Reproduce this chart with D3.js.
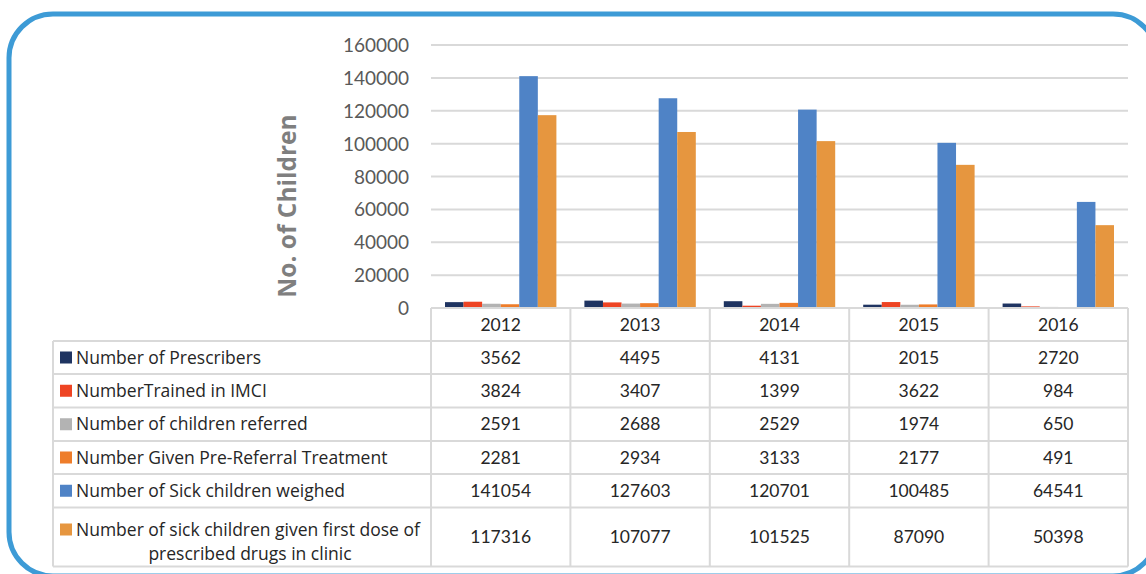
<!DOCTYPE html>
<html>
<head>
<meta charset="utf-8">
<script src="https://cdn.jsdelivr.net/npm/d3@7"></script>
<style>
  body { margin: 0; background: #fff; }
  svg text { font-family: Lato, "Open Sans", sans-serif; }
  svg text.label { font-family: "Open Sans", Lato, sans-serif; }
</style>
</head>
<body>
<svg id="chart"></svg>
<script>
// data
var years = ["2012", "2013", "2014", "2015", "2016"];
var seriesNames = [
    "Number of Prescribers",
    "NumberTrained in IMCI",
    "Number of children referred",
    "Number Given Pre-Referral Treatment",
    "Number of Sick children weighed",
    "Number of sick children given first dose of prescribed drugs in clinic"
];
var prescribers = [3562, 4495, 4131, 2015, 2720];
var trained = [3824, 3407, 1399, 3622, 984];
var referred = [2591, 2688, 2529, 1974, 650];
var preReferral = [2281, 2934, 3133, 2177, 491];
var weighed = [141054, 127603, 120701, 100485, 64541];
var firstDose = [117316, 107077, 101525, 87090, 50398];
var yTicks = [0, 20000, 40000, 60000, 80000, 100000, 120000, 140000, 160000];

var series = [prescribers, trained, referred, preReferral, weighed, firstDose];
var colors = ["#1f3461", "#ee4423", "#b3b3b3", "#ee7d2a", "#4f83c6", "#e6963f"];

// layout
var W = 1146, H = 574;
var svg = d3.select("#chart").attr("width", W).attr("height", H);

// rounded frame
svg.append("rect")
    .attr("x", 9).attr("y", 14)
    .attr("width", 1148).attr("height", 562)
    .attr("rx", 44).attr("ry", 44)
    .attr("fill", "none")
    .attr("stroke", "#3d9bd6")
    .attr("stroke-width", 5);

var plotLeft = 431, plotRight = 1128, plotTop = 45, plotBottom = 308;

var x0 = d3.scaleBand().domain(years).range([plotLeft, plotRight]).padding(0);
var x1 = d3.scaleBand().domain(d3.range(series.length))
    .range([14, x0.bandwidth() - 14]).padding(0);
var y = d3.scaleLinear().domain([0, 160000]).range([plotBottom, plotTop]);

// gridlines
svg.selectAll(".grid")
    .data(yTicks.filter(function (d) { return d > 0; }))
    .enter()
    .append("line")
    .attr("class", "grid")
    .attr("x1", plotLeft).attr("x2", plotRight)
    .attr("y1", function (d) { return y(d); })
    .attr("y2", function (d) { return y(d); })
    .attr("stroke", "#d9d9d9")
    .attr("stroke-width", 2);

// y axis labels
svg.selectAll(".ytick")
    .data(yTicks)
    .enter()
    .append("text")
    .attr("class", "ytick")
    .attr("x", 409)
    .attr("y", function (d) { return y(d) + 7; })
    .attr("text-anchor", "end")
    .attr("font-size", 19)
    .attr("fill", "#595959")
    .text(function (d) { return d; });

svg.append("text")
    .attr("class", "label")
    .attr("transform", "translate(296,206) rotate(-90)")
    .attr("text-anchor", "middle")
    .attr("font-size", 24.5)
    .attr("font-weight", "bold")
    .attr("fill", "#7f7f7f")
    .text("No. of Children");

// bars
series.forEach(function (vals, s) {
    svg.selectAll(".bar" + s)
        .data(vals)
        .enter()
        .append("rect")
        .attr("class", "bar" + s)
        .attr("x", function (d, i) { return x0(years[i]) + x1(s); })
        .attr("y", function (d) { return y(d); })
        .attr("width", x1.bandwidth())
        .attr("height", function (d) { return y(0) - y(d); })
        .attr("fill", colors[s]);
});

// table
var lineColor = "#d9d9d9";
var tableLeft = 53, headerTop = plotBottom, rowTop = 341;
var rowLines = [341, 374, 407.5, 441, 474, 507.5, 566.5];

var grid = svg.append("g");
grid.append("line")
    .attr("x1", plotLeft).attr("x2", plotRight)
    .attr("y1", headerTop).attr("y2", headerTop)
    .attr("stroke", lineColor).attr("stroke-width", 2);
rowLines.forEach(function (ry) {
    grid.append("line")
        .attr("x1", tableLeft).attr("x2", plotRight)
        .attr("y1", ry).attr("y2", ry)
        .attr("stroke", lineColor).attr("stroke-width", 2);
});
var colEdges = years.map(function (d) { return x0(d); }).concat([plotRight]);
colEdges.forEach(function (cx) {
    grid.append("line")
        .attr("x1", cx).attr("x2", cx)
        .attr("y1", headerTop).attr("y2", rowLines[rowLines.length - 1])
        .attr("stroke", lineColor).attr("stroke-width", 2);
});
grid.append("line")
    .attr("x1", tableLeft).attr("x2", tableLeft)
    .attr("y1", rowTop).attr("y2", rowLines[rowLines.length - 1])
    .attr("stroke", lineColor).attr("stroke-width", 2);

// header years
svg.selectAll(".year")
    .data(years)
    .enter()
    .append("text")
    .attr("class", "year")
    .attr("x", function (d) { return x0(d) + x0.bandwidth() / 2; })
    .attr("y", 331)
    .attr("text-anchor", "middle")
    .attr("font-size", 17.5)
    .attr("fill", "#262626")
    .text(function (d) { return d; });

// rows
series.forEach(function (vals, s) {
    var top = rowLines[s], bottom = rowLines[s + 1];
    var mid = (top + bottom) / 2;
    var twoLine = s == series.length - 1;
    var labelY = twoLine ? top + 22 : mid;
    svg.append("rect")
        .attr("x", 60).attr("y", labelY - 6)
        .attr("width", 12).attr("height", 12)
        .attr("fill", colors[s]);
    if (twoLine) {
        svg.append("text")
            .attr("class", "label")
            .attr("x", 76).attr("y", labelY + 6)
            .attr("font-size", 17.5).attr("fill", "#262626")
            .text("Number of sick children given first dose of");
        svg.append("text")
            .attr("class", "label")
            .attr("x", 250).attr("y", labelY + 30)
            .attr("text-anchor", "middle")
            .attr("font-size", 17.5).attr("fill", "#262626")
            .text("prescribed drugs in clinic");
    } else {
        svg.append("text")
            .attr("class", "label")
            .attr("x", 76).attr("y", labelY + 6)
            .attr("font-size", 17.5).attr("fill", "#262626")
            .text(seriesNames[s]);
    }
    svg.selectAll(".val" + s)
        .data(vals)
        .enter()
        .append("text")
        .attr("class", "val" + s)
        .attr("x", function (d, i) { return x0(years[i]) + x0.bandwidth() / 2; })
        .attr("y", mid + 6)
        .attr("text-anchor", "middle")
        .attr("font-size", 17.5)
        .attr("fill", "#262626")
        .text(function (d) { return d; });
});
</script>
</body>
</html>
